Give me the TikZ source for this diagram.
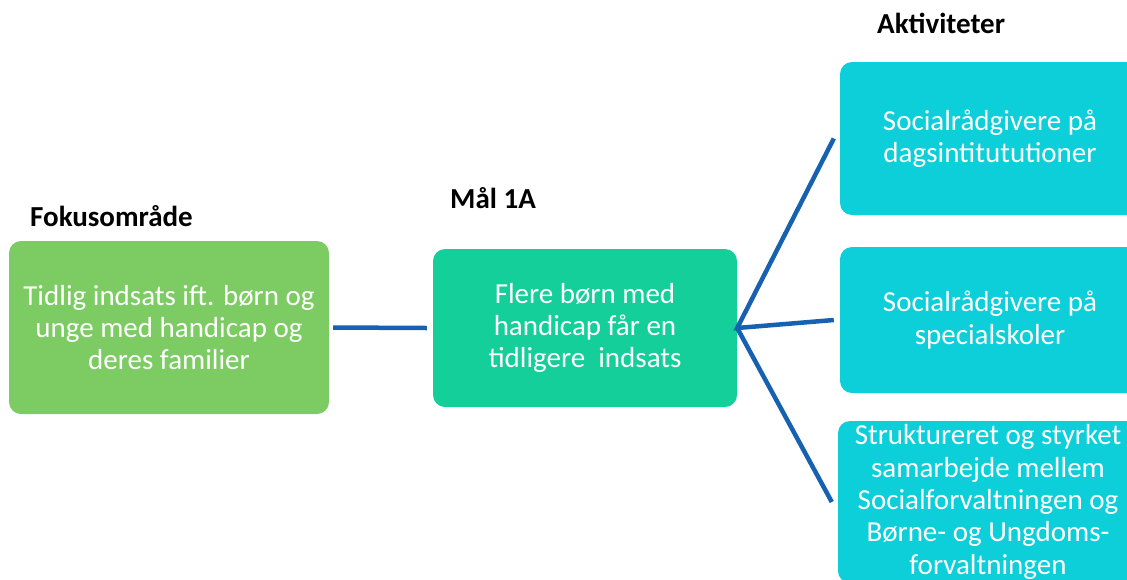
\documentclass[tikz,border=0pt]{standalone}
\usepackage{fontspec}
\setmainfont{Carlito}
\definecolor{fokus}{RGB}{125,203,99}
\definecolor{maal}{RGB}{20,207,153}
\definecolor{akt}{RGB}{13,207,218}
\definecolor{conn}{RGB}{22,98,176}
\tikzset{
  box/.style={rounded corners=12pt, text=white, align=center, inner sep=0pt,
    font=\fontsize{29}{32.3}\selectfont},
  head/.style={font=\fontsize{29}{32}\selectfont\bfseries, inner sep=0pt, anchor=base west},
  link/.style={draw=conn, line width=4.5pt}
}
\begin{document}
\begin{tikzpicture}[x=1pt,y=-1pt]
\useasboundingbox (0,0) rectangle (1127,579);
\clip (0,0) rectangle (1127,579);
\node[box, fill=fokus, minimum width=320pt, minimum height=173pt] (b1) at (169,327.5)
  {Tidlig indsats ift. børn og\\unge med handicap og\\deres familier};
\node[box, fill=maal, minimum width=304pt, minimum height=158pt] (b2) at (585,328)
  {Flere børn med\\handicap får en\\tidligere\ \ indsats};
\node[box, fill=akt, minimum width=300pt, minimum height=153pt] (b3) at (990,138.5)
  {Socialrådgivere på\\dagsintitututioner};
\node[box, fill=akt, minimum width=300pt, minimum height=146pt] (b4) at (990,320)
  {Socialrådgivere på\\specialskoler};
\node[box, fill=akt, minimum width=300pt, minimum height=162pt] (b5) at (988,502)
  {Struktureret og styrket\\samarbejde mellem\\Socialforvaltningen og\\Børne- og Ungdoms-\\forvaltningen};
\node[head] (h1) at (30,226) {Fokusområde};
\node[head] (h2) at (450,208) {Mål 1A};
\node[head] (h3) at (877,33) {Aktiviteter};
\draw[link] ([xshift=4pt]b1.east) -- ([xshift=-6pt]b2.west);
\draw[link, line join=miter] ([xshift=-6pt]b3.west) -- (b2.east) -- ([xshift=-6pt]b4.west);
\draw[link] (b2.east) -- ([xshift=-6pt]b5.west);
\end{tikzpicture}
\end{document}
